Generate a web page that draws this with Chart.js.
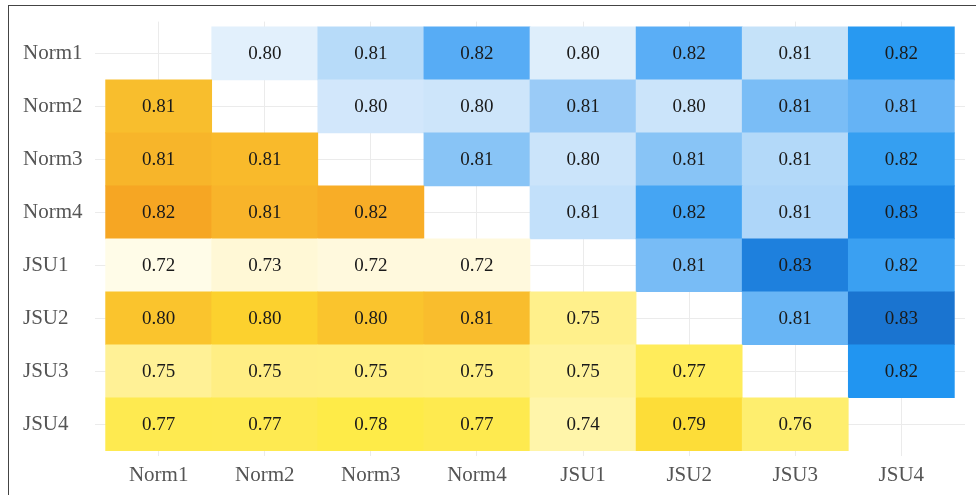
<!DOCTYPE html>
<html>
<head>
<meta charset="utf-8">
<script src="https://cdn.jsdelivr.net/npm/chart.js@4.4.1/dist/chart.umd.min.js"></script>
<style>
  html, body { margin: 0; padding: 0; background: #fff; }
  #wrap { position: relative; width: 976px; height: 495px; }
  #frame { position: absolute; left: 8px; top: 5px; width: 1000px; height: 600px;
           border-left: 1px solid #444; border-top: 1px solid #444; }
  canvas { position: absolute; left: 0; top: 0; }
</style>
</head>
<body>
<div id="wrap">
  <div id="frame"></div>
  <canvas id="heatChart" width="976" height="495"></canvas>
</div>
<script>
// categories (same on both axes)
var labels = ['Norm1', 'Norm2', 'Norm3', 'Norm4', 'JSU1', 'JSU2', 'JSU3', 'JSU4'];

// one array per row, null on the diagonal
var rowNorm1 = [null, 0.80, 0.81, 0.82, 0.80, 0.82, 0.81, 0.82];
var rowNorm2 = [0.81, null, 0.80, 0.80, 0.81, 0.80, 0.81, 0.81];
var rowNorm3 = [0.81, 0.81, null, 0.81, 0.80, 0.81, 0.81, 0.82];
var rowNorm4 = [0.82, 0.81, 0.82, null, 0.81, 0.82, 0.81, 0.83];
var rowJSU1  = [0.72, 0.73, 0.72, 0.72, null, 0.81, 0.83, 0.82];
var rowJSU2  = [0.80, 0.80, 0.80, 0.81, 0.75, null, 0.81, 0.83];
var rowJSU3  = [0.75, 0.75, 0.75, 0.75, 0.75, 0.77, null, 0.82];
var rowJSU4  = [0.77, 0.77, 0.78, 0.77, 0.74, 0.79, 0.76, null];
var rows = [rowNorm1, rowNorm2, rowNorm3, rowNorm4, rowJSU1, rowJSU2, rowJSU3, rowJSU4];

// cell fill colours
var cellColors = [
    [null, '#e2f0fc', '#b7dbf9', '#57acf5', '#deeefb', '#5aaef6', '#c5e2f9', '#2899f1'],
    ['#f8be2d', null, '#d2e7fb', '#cde5fa', '#9acbf7', '#cbe4fa', '#7abdf6', '#65b3f5'],
    ['#f7b52a', '#f9ba2b', null, '#88c4f6', '#cbe4fa', '#88c4f6', '#b3d9f9', '#359ff1'],
    ['#f6a623', '#f8b42a', '#f8ad27', null, '#c2e0fa', '#45a5f3', '#aed6f9', '#1e89e6'],
    ['#fffce8', '#fff8d6', '#fff9dd', '#fff9dd', null, '#78bcf6', '#1e80dd', '#3aa0f2'],
    ['#fac42d', '#fcd12e', '#fac42d', '#f9bd2d', '#fff08b', null, '#68b5f5', '#1a74d0'],
    ['#fff196', '#ffee84', '#ffef84', '#fff085', '#fff39c', '#ffec5b', null, '#2195f1'],
    ['#feea50', '#feea51', '#feeb48', '#feea4f', '#fff5aa', '#fddd38', '#feee6e', null]
];

var cells = [];
var colors = [];
for (var r = 0; r < rows.length; r++) {
    for (var c = 0; c < rows[r].length; c++) {
        if (rows[r][c] == null) continue;
        cells.push({ x: [c - 0.5, c + 0.5], y: r, v: rows[r][c] });
        colors.push(cellColors[r][c]);
    }
}

var FONT = "'Liberation Serif', 'Times New Roman', serif";

function integerTicks(scale) {
    scale.ticks = labels.map(function (l, i) { return { value: i }; });
}

var cellText = {
    id: 'cellText',
    afterDatasetsDraw: function (chart) {
        var ctx = chart.ctx;
        var meta = chart.getDatasetMeta(0);
        ctx.save();
        ctx.font = '19px ' + FONT;
        ctx.fillStyle = '#1a1a1a';
        ctx.textAlign = 'center';
        ctx.textBaseline = 'middle';
        meta.data.forEach(function (el, i) {
            var p = el.getCenterPoint();
            ctx.fillText(cells[i].v.toFixed(2), p.x, p.y + 1);
        });
        ctx.restore();
    }
};

var ctx = document.getElementById('heatChart').getContext('2d');
window.HeatChart = new Chart(ctx, {
    type: 'bar',
    data: {
        datasets: [{
            data: cells,
            backgroundColor: colors,
            borderWidth: 0,
            barPercentage: 1,
            categoryPercentage: 1
        }]
    },
    options: {
        indexAxis: 'y',
        responsive: false,
        animation: false,
        layout: { padding: { left: 23, right: 11, top: 21, bottom: 0 } },
        plugins: {
            legend: { display: false },
            tooltip: { enabled: false }
        },
        scales: {
            x: {
                type: 'linear',
                min: -0.6,
                max: 7.6,
                offset: false,
                afterBuildTicks: integerTicks,
                afterFit: function (s) { s.height = 39; },
                border: { display: false },
                grid: { color: '#ebebeb', lineWidth: 1, drawTicks: false, offset: false },
                ticks: {
                    padding: 7,
                    color: '#555555',
                    font: { family: FONT, size: 21 },
                    maxRotation: 0,
                    callback: function (v) { return labels[v]; }
                }
            },
            y: {
                type: 'linear',
                reverse: true,
                min: -0.6,
                max: 7.6,
                offset: false,
                afterBuildTicks: integerTicks,
                afterFit: function (s) { s.width = 72; },
                border: { display: false },
                grid: { color: '#ebebeb', lineWidth: 1, drawTicks: false, offset: false },
                ticks: {
                    crossAlign: 'far',
                    padding: 9,
                    color: '#555555',
                    font: { family: FONT, size: 21 },
                    callback: function (v) { return labels[v]; }
                }
            }
        }
    },
    plugins: [cellText]
});
</script>
</body>
</html>
